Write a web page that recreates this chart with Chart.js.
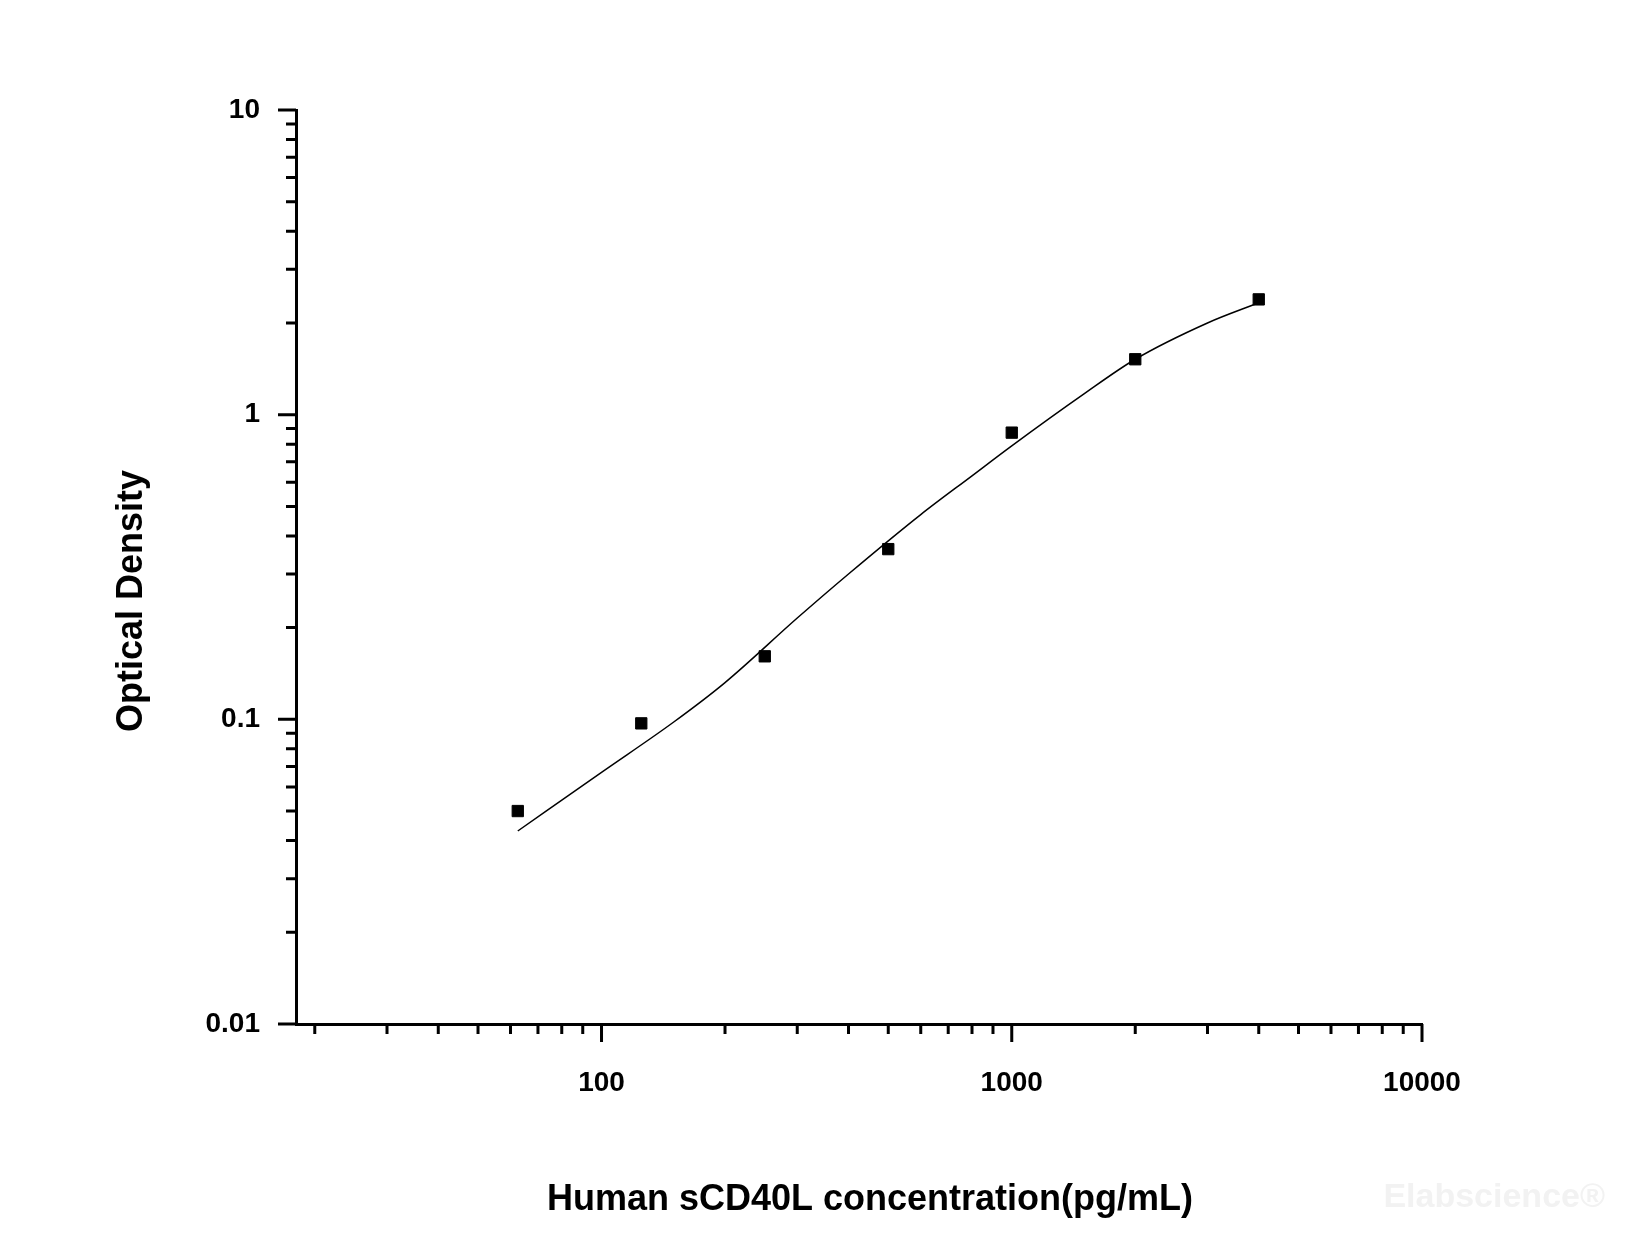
<!DOCTYPE html>
<html>
<head>
<meta charset="utf-8">
<script src="https://cdn.jsdelivr.net/npm/chart.js@4"></script>
<style>
  html, body { margin: 0; padding: 0; background: #fff; }
  #wrap { width: 1650px; height: 1237px; }
</style>
</head>
<body>
<div id="wrap"><canvas id="c" width="1650" height="1237"></canvas></div>
<script>
// measured standards
const concentrations = [62.5, 125, 250, 500, 1000, 2000, 4000];
const densities = [0.050, 0.097, 0.161, 0.362, 0.873, 1.52, 2.39];

// fitted curve
const curveX = [62.5, 100, 150, 200, 300, 400, 600, 800, 1000, 1500, 2000, 3000, 4000];
const curveY = [0.043, 0.067, 0.098, 0.132, 0.215, 0.30, 0.47, 0.63, 0.79, 1.17, 1.52, 2.0, 2.33];

const xMajor = [100, 1000, 10000];
const xMinor = [20, 30, 40, 50, 60, 70, 80, 90, 200, 300, 400, 500, 600, 700, 800, 900,
                2000, 3000, 4000, 5000, 6000, 7000, 8000, 9000];
const yMajor = [0.01, 0.1, 1, 10];
const yMinor = [0.02, 0.03, 0.04, 0.05, 0.06, 0.07, 0.08, 0.09, 0.2, 0.3, 0.4, 0.5, 0.6, 0.7, 0.8, 0.9,
                2, 3, 4, 5, 6, 7, 8, 9];

const xTitle = "Human sCD40L concentration(pg/mL)";
const yTitle = "Optical Density";

const FONT = "'Liberation Sans', Arial, sans-serif";

const decor = {
  id: "decor",
  afterDraw(chart) {
    const ctx = chart.ctx;
    const xs = chart.scales.x, ys = chart.scales.y;
    ctx.save();
    ctx.strokeStyle = "#000";
    ctx.lineWidth = 3;
    ctx.beginPath();
    xMajor.forEach(v => { const p = xs.getPixelForValue(v); ctx.moveTo(p, xs.top); ctx.lineTo(p, xs.top + 18); });
    xMinor.forEach(v => { const p = xs.getPixelForValue(v); ctx.moveTo(p, xs.top); ctx.lineTo(p, xs.top + 10); });
    yMajor.forEach(v => { const p = ys.getPixelForValue(v); ctx.moveTo(ys.right, p); ctx.lineTo(ys.right - 18, p); });
    yMinor.forEach(v => { const p = ys.getPixelForValue(v); ctx.moveTo(ys.right, p); ctx.lineTo(ys.right - 10, p); });
    ctx.stroke();

    ctx.fillStyle = "#000";
    ctx.font = "bold 36px " + FONT;
    ctx.textAlign = "center";
    ctx.textBaseline = "middle";
    ctx.fillText(xTitle, 870, 1200);
    ctx.translate(132, 601);
    ctx.rotate(-Math.PI / 2);
    ctx.fillText(yTitle, 0, 0);
    ctx.restore();

    ctx.save();
    ctx.fillStyle = "#f2f2f2";
    ctx.font = "bold 34px " + FONT;
    ctx.textAlign = "right";
    ctx.textBaseline = "middle";
    ctx.fillText("Elabscience®", 1605, 1198);
    ctx.restore();
  }
};

new Chart(document.getElementById("c"), {
  type: "scatter",
  data: {
    datasets: [
      {
        data: curveX.map((x, i) => ({ x, y: curveY[i] })),
        showLine: true,
        borderColor: "#000",
        borderWidth: 1.5,
        pointRadius: 0,
        cubicInterpolationMode: "monotone",
        tension: 0.4
      },
      {
        data: concentrations.map((x, i) => ({ x, y: densities[i] })),
        pointStyle: "rect",
        pointRadius: 8,
        backgroundColor: "#000",
        borderColor: "#000"
      }
    ]
  },
  options: {
    responsive: false,
    animation: false,
    layout: { padding: { top: 110, right: 228, left: 0, bottom: 0 } },
    plugins: { legend: { display: false }, tooltip: { enabled: false } },
    scales: {
      x: {
        type: "logarithmic",
        min: 18, max: 10000,
        afterBuildTicks: s => { s.ticks = xMajor.map(v => ({ value: v })); },
        afterFit: s => { s.height = 213; },
        grid: { display: false },
        border: { display: true, color: "#000", width: 3 },
        ticks: {
          color: "#000", padding: 34,
          font: { family: FONT, size: 28, weight: "bold" },
          callback: v => String(v)
        }
      },
      y: {
        type: "logarithmic",
        min: 0.01, max: 10,
        afterBuildTicks: s => { s.ticks = yMajor.map(v => ({ value: v })); },
        afterFit: s => { s.width = 296; },
        grid: { display: false },
        border: { display: true, color: "#000", width: 3 },
        ticks: {
          color: "#000", padding: 28,
          font: { family: FONT, size: 28, weight: "bold" },
          callback: v => String(v)
        }
      }
    }
  },
  plugins: [decor]
});
</script>
</body>
</html>
